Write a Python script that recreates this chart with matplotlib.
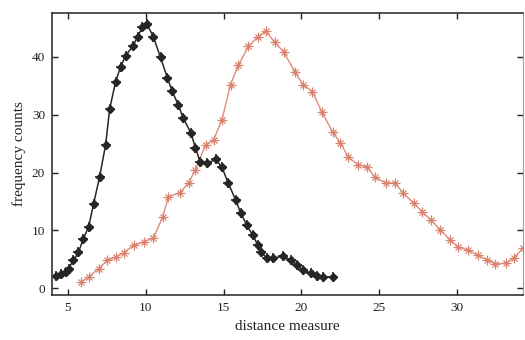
import matplotlib
matplotlib.use("Agg")
import matplotlib.pyplot as plt

# Black series: distance vs. frequency count
black_x = [4.23, 4.55, 4.87, 5.06, 5.38, 5.70, 6.00, 6.35, 6.67, 7.05,
           7.44, 7.70, 8.08, 8.40, 8.72, 9.17, 9.50, 9.80, 10.10, 10.50,
           10.96, 11.40, 11.70, 12.10, 12.40, 12.90, 13.20, 13.50, 13.97, 14.50,
           14.90, 15.30, 15.77, 16.10, 16.50, 16.86, 17.20, 17.40, 17.80, 18.20,
           18.80, 19.30, 19.70, 20.10, 20.60, 21.00, 21.40, 22.00]
black_y = [2.1, 2.4, 2.8, 3.4, 4.8, 6.2, 8.5, 10.6, 14.6, 19.2,
           24.8, 31.0, 35.7, 38.3, 40.2, 41.8, 43.5, 45.2, 45.6, 43.5,
           39.9, 36.4, 34.1, 31.7, 29.5, 26.9, 24.3, 21.8, 21.6, 22.3,
           20.9, 18.2, 15.3, 13.0, 10.9, 9.2, 7.5, 6.2, 5.2, 5.2,
           5.5, 4.9, 4.0, 3.1, 2.6, 2.1, 1.9, 1.9]

# Red series
red_x = [5.83, 6.35, 6.99, 7.56, 8.08, 8.60, 9.23, 9.87, 10.50, 11.10,
         11.47, 12.20, 12.76, 13.20, 13.85, 14.36, 14.90, 15.45, 15.96, 16.60,
         17.20, 17.70, 18.30, 18.85, 19.60, 20.10, 20.70, 21.30, 22.00, 22.50,
         23.00, 23.65, 24.20, 24.70, 25.40, 26.00, 26.50, 27.20, 27.75, 28.30,
         28.90, 29.55, 30.06, 30.70, 31.30, 31.90, 32.40, 33.10, 33.60, 34.20]
red_y = [1.0, 1.9, 3.4, 4.8, 5.4, 6.1, 7.4, 8.0, 8.7, 12.3,
         15.8, 16.5, 18.2, 20.5, 24.8, 25.6, 29.1, 35.2, 38.6, 41.8,
         43.5, 44.4, 42.5, 40.9, 37.3, 35.2, 34.0, 30.5, 27.0, 25.1,
         22.7, 21.3, 21.0, 19.2, 18.2, 18.2, 16.5, 14.7, 13.2, 11.8,
         10.1, 8.3, 7.1, 6.6, 5.7, 4.9, 4.2, 4.3, 5.2, 6.9]

x_ticks = [5, 10, 15, 20, 25, 30]
y_ticks = [0, 10, 20, 30, 40]

plt.rcParams["font.family"] = ["Liberation Serif", "DejaVu Serif"]

fig = plt.figure(figsize=(5.25, 3.4), dpi=100)
ax = fig.add_axes([0.099, 0.132, 0.897, 0.830])

red = "#d8826e"
ax.plot(red_x, red_y, color=red, lw=1.0, alpha=0.9)
ax.plot(red_x, red_y, lw=0, marker="+", ms=7, mew=0.9, mec=red)
ax.plot(red_x, red_y, lw=0, marker="x", ms=4.5, mew=0.9, mec=red)

dark = "#262626"
ax.plot(black_x, black_y, color=dark, lw=1.1, marker="D", ms=3.6,
        mfc=dark, mec=dark)
ax.plot(black_x, black_y, lw=0, marker="+", ms=7, mew=1.2, mec=dark)

ax.set_xlim(4.0, 34.2)
ax.set_ylim(-1.2, 47.6)
ax.set_xticks(x_ticks)
ax.set_yticks(y_ticks)
ax.tick_params(direction="in", length=4, width=1, top=True, right=True,
               labelsize=9.5, colors="#222222", pad=5)

for side, sp in ax.spines.items():
    sp.set_color("#333333")
    sp.set_linewidth(1.2)
ax.spines["right"].set_color("#999999")
ax.spines["right"].set_linewidth(0.8)

ax.set_xlabel("distance measure", fontsize=11, color="#222222", labelpad=4)
ax.set_ylabel("frequency counts", fontsize=11, color="#222222", labelpad=4)

fig.savefig("out.png", dpi=100)
